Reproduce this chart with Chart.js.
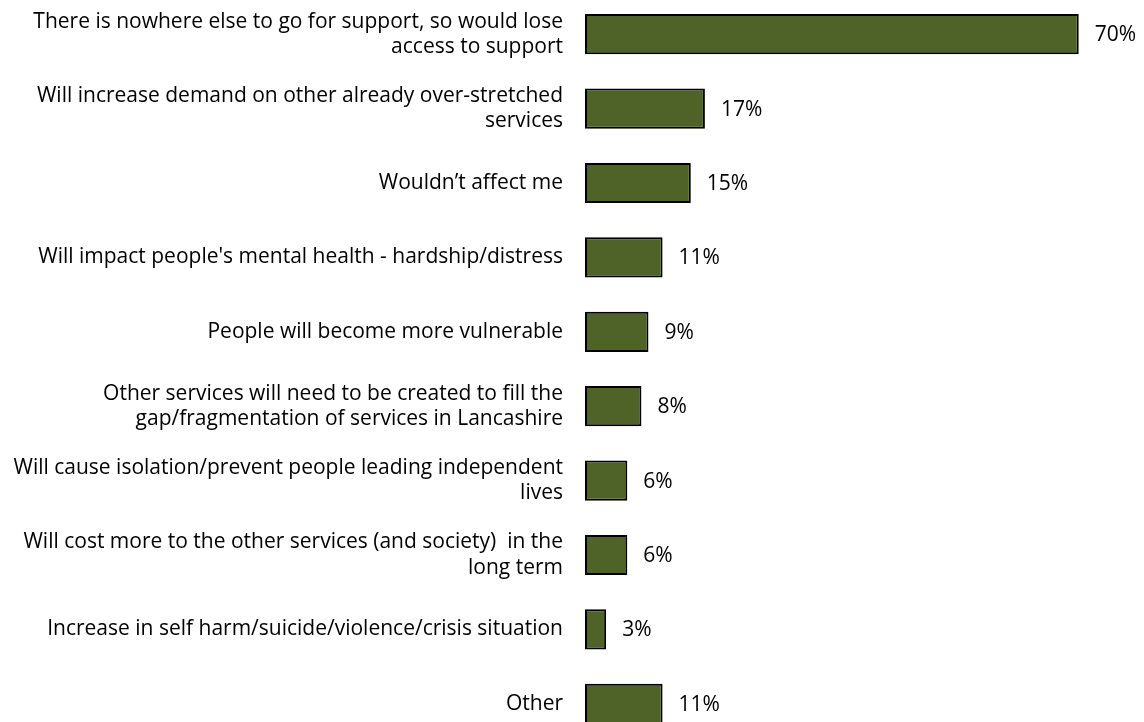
<!DOCTYPE html>
<html>
<head>
<meta charset="utf-8">
<script src="https://cdn.jsdelivr.net/npm/chart.js@4/dist/chart.umd.min.js"></script>
<style>
  html, body { margin: 0; padding: 0; background: #fff; overflow: hidden; }
  #wrap { position: absolute; left: 0; top: -3px; width: 1144px; height: 744px; }
</style>
</head>
<body>
<div id="wrap"><canvas id="myChart"></canvas></div>
<script>
  const categories = [
    ['There is nowhere else to go for support, so would lose', 'access to support'],
    ['Will increase demand on other already over-stretched', 'services'],
    'Wouldn\u2019t affect me',
    'Will impact people\'s mental health - hardship/distress',
    'People will become more vulnerable',
    ['Other services will need to be created to fill the', 'gap/fragmentation of services in Lancashire'],
    ['Will cause isolation/prevent people leading independent', 'lives'],
    ['Will cost more to the other services (and society)  in the', 'long term'],
    'Increase in self harm/suicide/violence/crisis situation',
    'Other'
  ]
  const values = [70, 17, 15, 11, 9, 8, 6, 6, 3, 11]

  const fontFamily = '"Open Sans", sans-serif'
  const fontSize = 21

  // value labels at the end of each bar
  const valueLabels = {
    id: 'valueLabels',
    afterDatasetsDraw(chart) {
      const ctx = chart.ctx
      const meta = chart.getDatasetMeta(0)
      ctx.save()
      ctx.font = fontSize + 'px ' + fontFamily
      ctx.fillStyle = '#000'
      ctx.textAlign = 'left'
      ctx.textBaseline = 'middle'
      meta.data.forEach((bar, i) => {
        ctx.fillText(values[i] + '%', bar.x + 16, bar.y + 1)
      })
      ctx.restore()
    }
  }

  const ctx = document.getElementById('myChart')
  const myChart = new Chart(ctx, {
    type: 'bar',
    data: {
      labels: categories,
      datasets: [{
        data: values,
        backgroundColor: '#4F6228',
        borderColor: '#000000',
        borderWidth: 2,
        borderSkipped: false,
        categoryPercentage: 1,
        barPercentage: 0.54
      }]
    },
    options: {
      indexAxis: 'y',
      responsive: true,
      maintainAspectRatio: false,
      animation: false,
      layout: { padding: { left: 0, top: 0, bottom: 0, right: 30 } },
      plugins: {
        legend: { display: false },
        tooltip: { enabled: false }
      },
      scales: {
        x: {
          display: false,
          min: 0,
          max: 75
        },
        y: {
          grid: { display: false, drawTicks: false },
          border: { display: false },
          ticks: {
            padding: 22,
            color: '#000',
            font: { family: fontFamily, size: fontSize, lineHeight: 1.2 }
          },
          afterFit(scale) {
            scale.width = 585
            scale.paddingTop = 0
            scale.paddingBottom = 0
          }
        }
      }
    },
    plugins: [valueLabels]
  })
</script>
</body>
</html>
